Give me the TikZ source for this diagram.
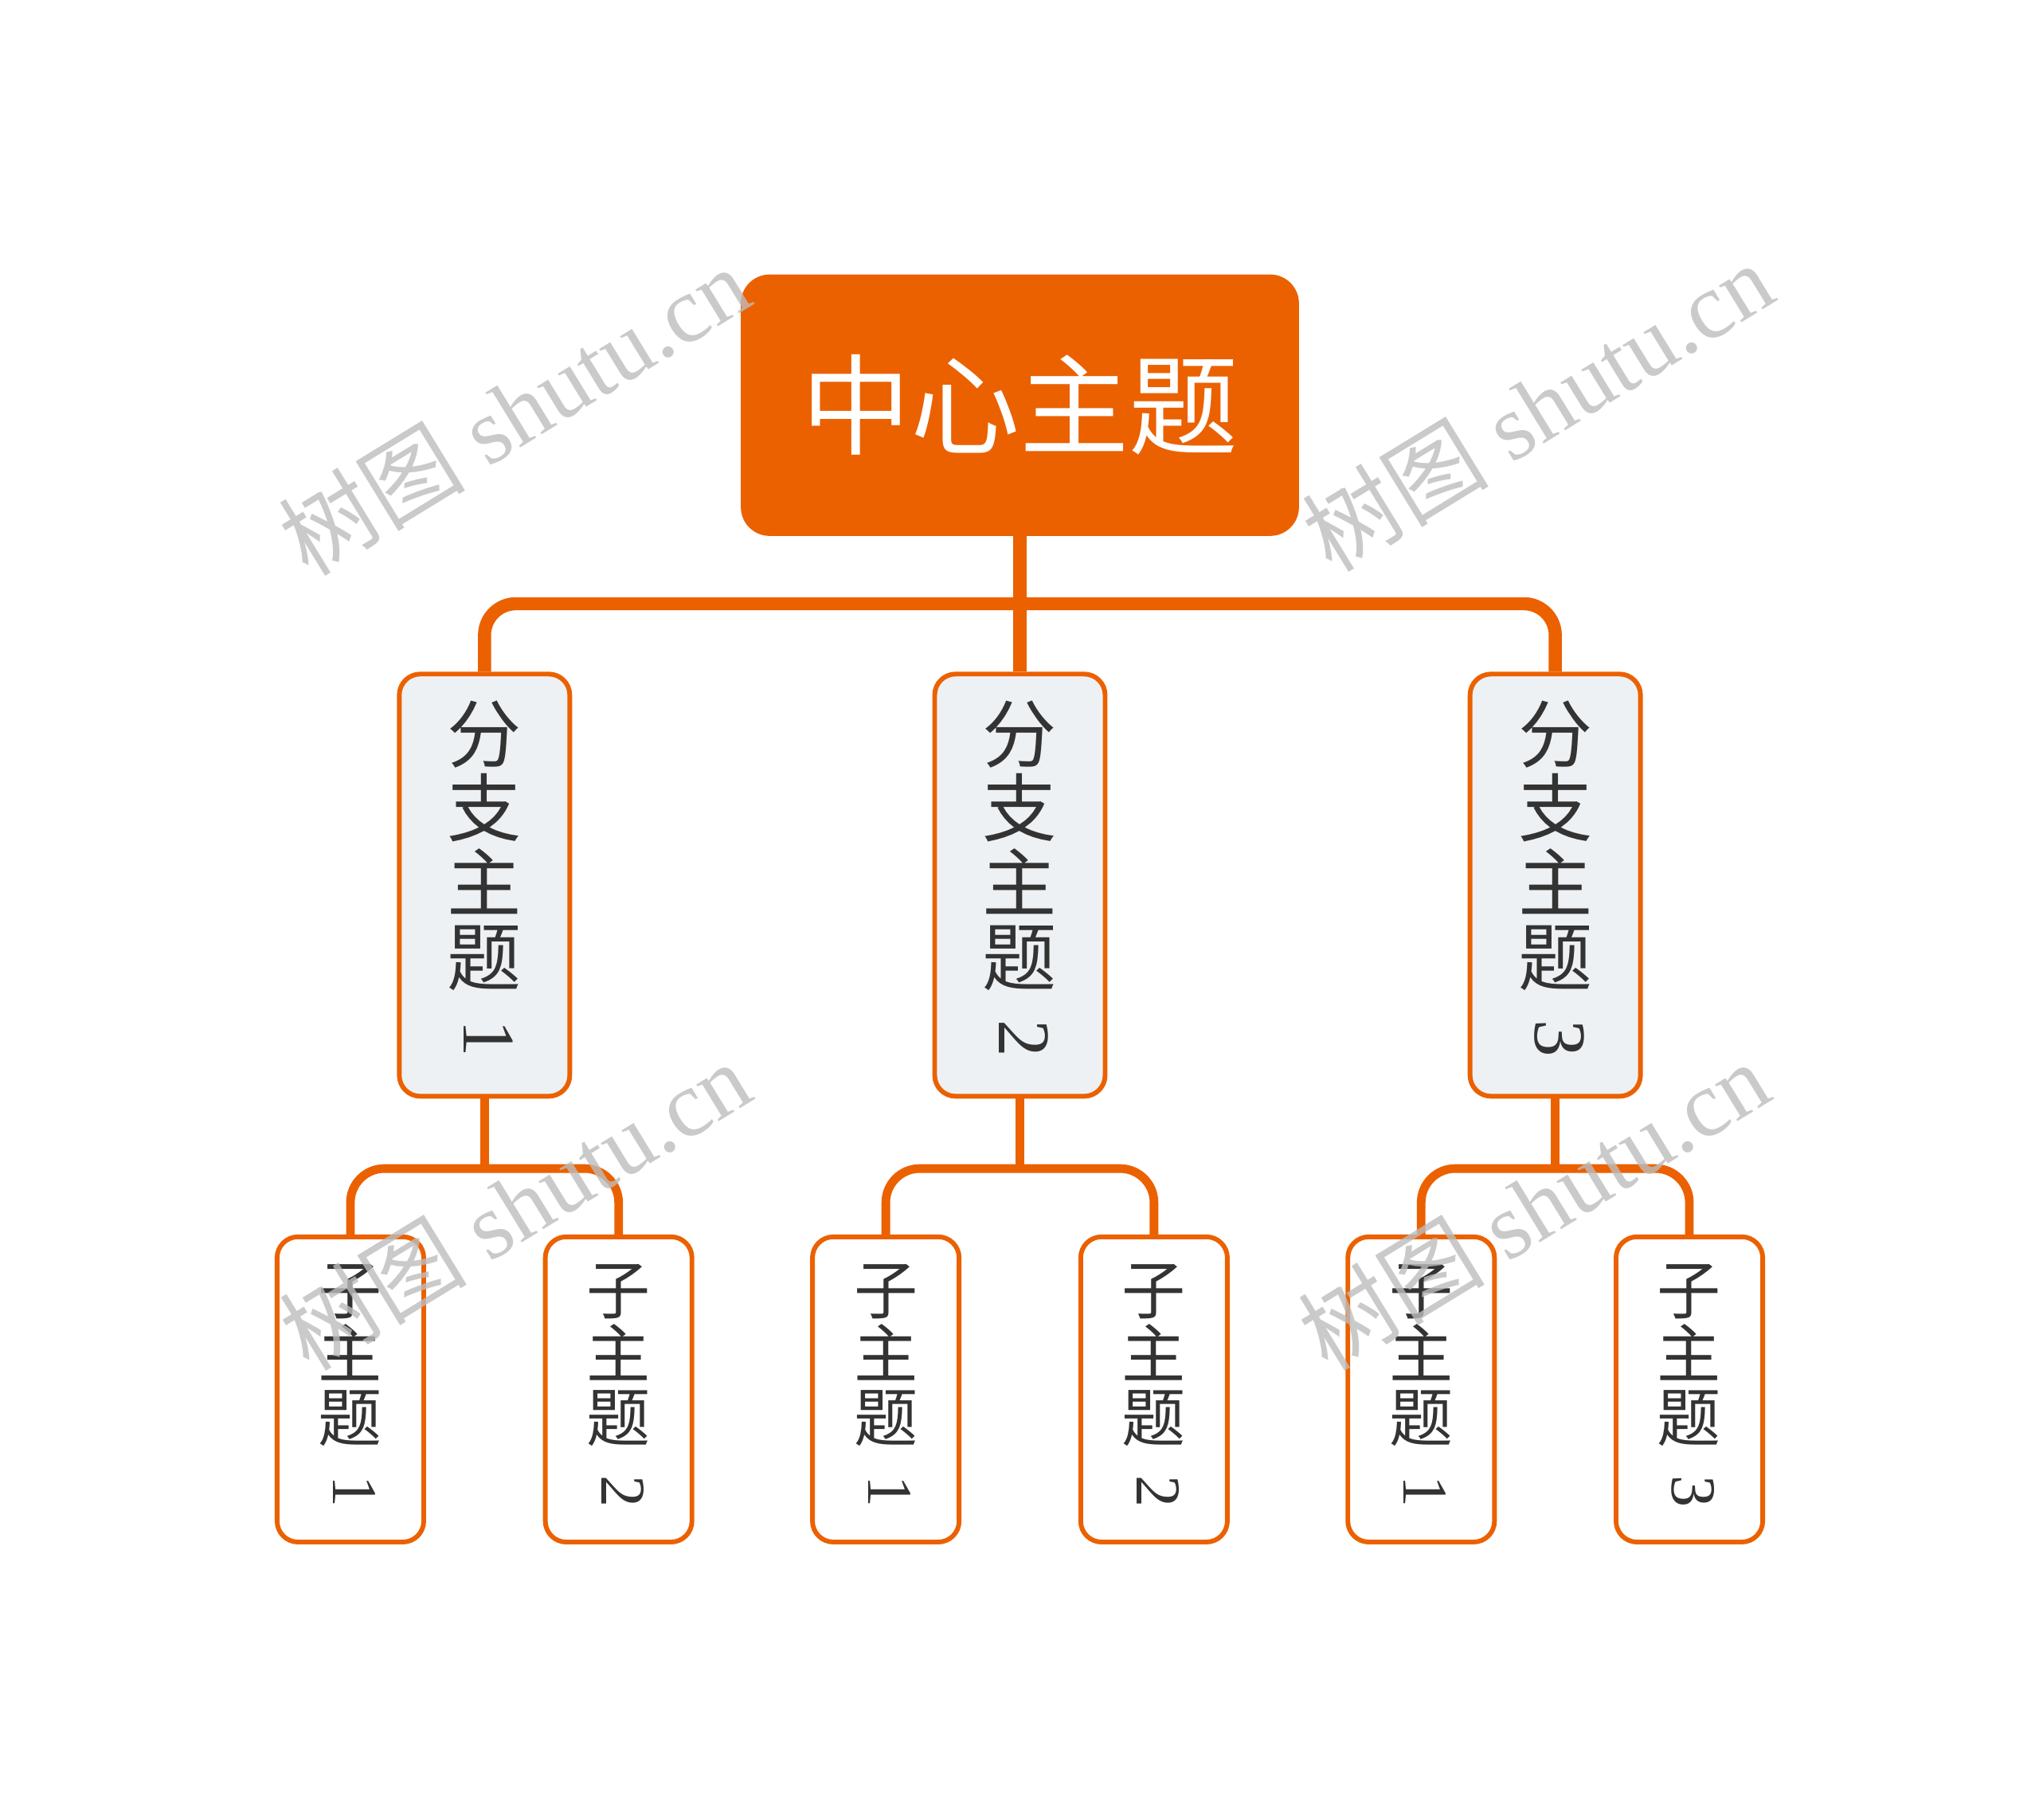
\documentclass[tikz,border=0pt]{standalone}
\usepackage{fontspec}
\setmainfont{Liberation Serif}
\newfontfamily\cjk{Noto Sans CJK SC}
\usetikzlibrary{calc}
\definecolor{orng}{HTML}{EB6100}
\definecolor{brfill}{HTML}{EEF1F4}
\definecolor{txt}{HTML}{333333}
\definecolor{wm}{HTML}{BDBDBD}
\pgfdeclarelayer{bg}
\pgfsetlayers{bg,main}
\begin{document}
\begin{tikzpicture}[x=0.5pt,y=-0.5pt,
  rootbox/.style={fill=orng, rounded corners=11pt, minimum width=213.5pt, minimum height=100pt, inner sep=0pt, text=white, font=\cjk\fontsize{41.8}{41.8}\selectfont},
  branchbox/.style={draw=orng, line width=1.8pt, fill=brfill, rounded corners=8pt, minimum width=65.2pt, minimum height=161.5pt, inner sep=0pt},
  subbox/.style={draw=orng, line width=1.8pt, fill=white, rounded corners=8pt, minimum width=56.1pt, minimum height=116.75pt, inner sep=0pt},
  brtext/.style={inner sep=0pt, align=center, text=txt, font=\cjk\fontsize{28.4}{28.4}\selectfont},
  brnum/.style={inner sep=0pt, rotate=-90, text=txt, font=\fontsize{28.4}{28.4}\selectfont},
  subtext/.style={inner sep=0pt, align=center, text=txt, font=\cjk\fontsize{24.4}{24.4}\selectfont},
  subnum/.style={inner sep=0pt, rotate=-90, text=txt, font=\fontsize{24.4}{24.4}\selectfont},
  conna/.style={draw=orng, line width=5pt},
  connb/.style={draw=orng, line width=3.3pt},
  wmark/.style={inner sep=0pt, text=wm, opacity=0.8, rotate=31.5, font=\fontsize{35.8}{35.8}\selectfont}
]
\useasboundingbox (0,0) rectangle (1560,1392.4);
\node[rootbox] (root) at (780.3,310) {中心主题};
\foreach \n/\x in {1/370.7,2/780.3,3/1189.9} {
  \node[branchbox] (b\n) at (\x,677.2) {};
  \node[brtext] (bt\n) at (\x,647) {分\\支\\主\\题};
  \node[brnum] (bn\n) at (\x+3,794.4) {\n};
}
\foreach \n/\x/\d in {1/268.1/1,2/473.3/2,3/677.7/1,4/882.9/2,5/1087.3/1,6/1292.5/3} {
  \node[subbox] (s\n) at (\x,1063) {};
  \node[subtext] (st\n) at (\x,1036.8) {子\\主\\题};
  \node[subnum] (sn\n) at (\x+3,1140.8) {\d};
}
\begin{pgfonlayer}{bg}
  \fill[white] (0,0) rectangle (1560,1392.4);
  \coordinate (j0) at (780.3,461.9);
  \draw[conna] (root.south) -- (b2.north);
  \draw[conna, rounded corners=12pt] (b1.north) |- (j0) -| (b3.north);
  \foreach \k/\a/\b/\x in {1/1/2/370.7,2/3/4/780.3,3/5/6/1189.9} {
    \coordinate (j\k) at (\x,894);
    \draw[connb] (b\k.south) -- (j\k);
    \draw[connb, rounded corners=13pt] (s\a.north) |- (j\k) -| (s\b.north);
  }
\end{pgfonlayer}
\node[wmark] (w1) at (393,314) {{\cjk 树图} shutu.cn};
\node[wmark] (w2) at (1176,311) {{\cjk 树图} shutu.cn};
\node[wmark] (w3) at (394,922) {{\cjk 树图} shutu.cn};
\node[wmark] (w4) at (1173,922) {{\cjk 树图} shutu.cn};
\end{tikzpicture}
\end{document}
